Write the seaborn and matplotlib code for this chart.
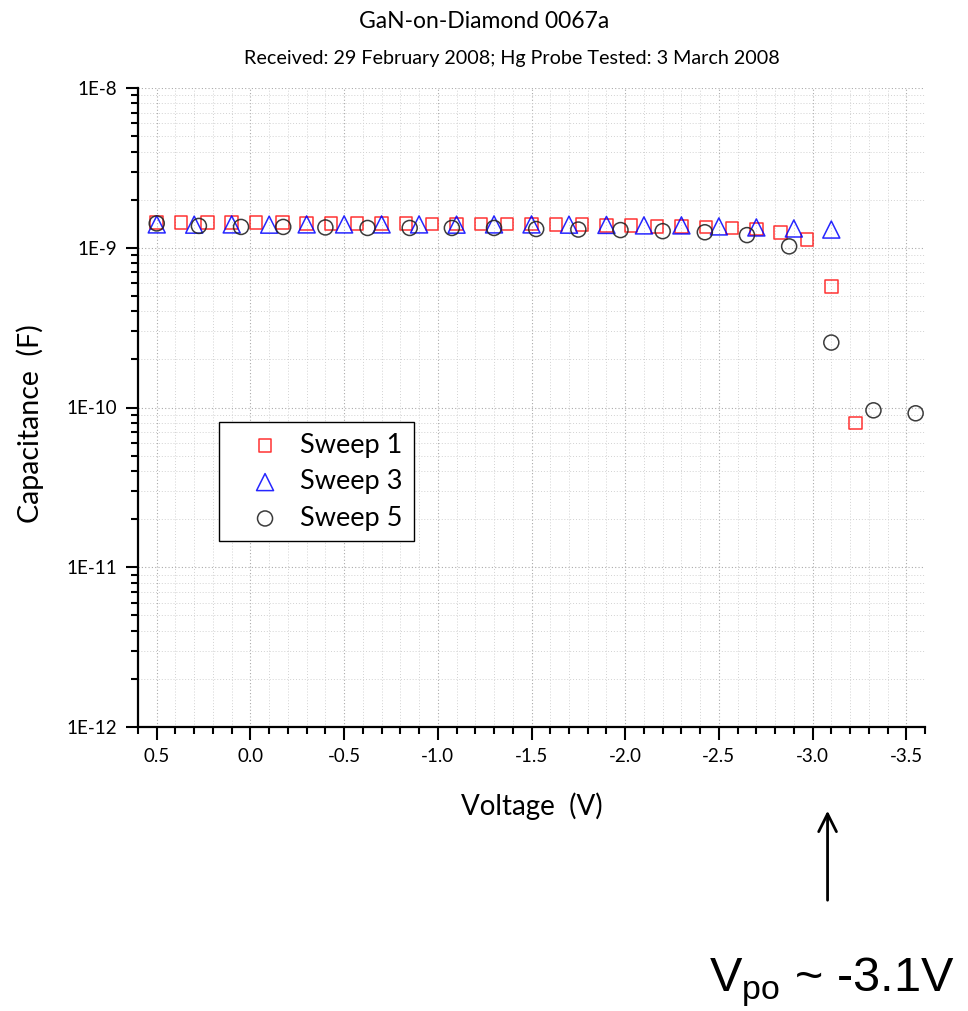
import matplotlib
matplotlib.use("Agg")
import matplotlib.pyplot as plt
import seaborn as sns
import numpy as np
from matplotlib.ticker import FixedLocator, FixedFormatter, LogLocator, NullFormatter

# ---------------- data ----------------
sweep1_v = [0.5, 0.37, 0.23, 0.1, -0.03, -0.17, -0.3, -0.43, -0.57, -0.7,
            -0.83, -0.97, -1.1, -1.23, -1.37, -1.5, -1.63, -1.77, -1.9, -2.03,
            -2.17, -2.3, -2.43, -2.57, -2.7, -2.83, -2.97, -3.1, -3.23]
sweep1_c = [1.435e-9, 1.44e-9, 1.435e-9, 1.435e-9, 1.44e-9, 1.44e-9, 1.415e-9, 1.42e-9,
            1.415e-9, 1.415e-9, 1.415e-9, 1.41e-9, 1.41e-9, 1.41e-9, 1.41e-9, 1.41e-9,
            1.40e-9, 1.40e-9, 1.375e-9, 1.375e-9, 1.36e-9, 1.36e-9, 1.345e-9, 1.33e-9,
            1.31e-9, 1.25e-9, 1.13e-9, 5.7e-10, 8.0e-11]

sweep3_v = [0.5, 0.3, 0.1, -0.1, -0.3, -0.5, -0.7, -0.9, -1.1, -1.3,
            -1.5, -1.7, -1.9, -2.1, -2.3, -2.5, -2.7, -2.9, -3.1]
sweep3_c = [1.40e-9, 1.395e-9, 1.40e-9, 1.395e-9, 1.40e-9, 1.40e-9, 1.40e-9, 1.40e-9,
            1.395e-9, 1.40e-9, 1.40e-9, 1.395e-9, 1.39e-9, 1.38e-9, 1.38e-9, 1.36e-9,
            1.34e-9, 1.32e-9, 1.30e-9]

sweep5_v = [0.5, 0.275, 0.05, -0.175, -0.4, -0.625, -0.85, -1.075, -1.3, -1.525,
            -1.75, -1.975, -2.2, -2.425, -2.65, -2.875, -3.1, -3.325, -3.55]
sweep5_c = [1.42e-9, 1.37e-9, 1.35e-9, 1.35e-9, 1.34e-9, 1.33e-9, 1.33e-9, 1.33e-9,
            1.33e-9, 1.31e-9, 1.30e-9, 1.29e-9, 1.27e-9, 1.25e-9, 1.20e-9, 1.02e-9,
            2.55e-10, 9.6e-11, 9.2e-11]

x_ticks = [0.5, 0.0, -0.5, -1.0, -1.5, -2.0, -2.5, -3.0, -3.5]
x_ticklabels = ["0.5", "0.0", "-0.5", "-1.0", "-1.5", "-2.0", "-2.5", "-3.0", "-3.5"]
y_ticks = [1e-12, 1e-11, 1e-10, 1e-9, 1e-8]
y_ticklabels = ["1E-12", "1E-11", "1E-10", "1E-9", "1E-8"]

title = "GaN-on-Diamond 0067a"
subtitle = "Received: 29 February 2008; Hg Probe Tested: 3 March 2008"

# ---------------- style ----------------
sns.set_style("white")
plt.rcParams["font.family"] = ["Lato", "DejaVu Sans"]
plt.rcParams["text.color"] = "black"
plt.rcParams["axes.labelcolor"] = "black"
plt.rcParams["xtick.color"] = "black"
plt.rcParams["ytick.color"] = "black"

W, H = 968, 1011
fig = plt.figure(figsize=(W / 100, H / 100), dpi=100)
ax = fig.add_axes([138 / W, 1 - 727 / H, (925 - 138) / W, (727 - 88) / H])

sns.scatterplot(x=sweep1_v, y=sweep1_c, ax=ax, marker="s", s=81,
                facecolors="none", edgecolor=(1, 0, 0, 0.8), linewidth=1.1,
                label="Sweep 1", zorder=3)
sns.scatterplot(x=sweep3_v, y=sweep3_c, ax=ax, marker="^", s=150,
                facecolors="none", edgecolor=(0, 0, 1, 0.85), linewidth=1.1,
                label="Sweep 3", zorder=3)
sns.scatterplot(x=sweep5_v, y=sweep5_c, ax=ax, marker="o", s=117,
                facecolors="none", edgecolor=(0.15, 0.15, 0.15, 0.9), linewidth=1.1,
                label="Sweep 5", zorder=3)

ax.set_yscale("log")
ax.set_xlim(0.6, -3.6)
ax.set_ylim(1e-12, 1e-8)

ax.xaxis.set_major_locator(FixedLocator(x_ticks))
ax.xaxis.set_major_formatter(FixedFormatter(x_ticklabels))
ax.xaxis.set_minor_locator(FixedLocator(np.arange(-36, 7) / 10.0))
ax.yaxis.set_major_locator(FixedLocator(y_ticks))
ax.yaxis.set_major_formatter(FixedFormatter(y_ticklabels))
ax.yaxis.set_minor_locator(LogLocator(base=10, subs=np.arange(2, 10), numticks=20))
ax.yaxis.set_minor_formatter(NullFormatter())

for s in ["top", "right"]:
    ax.spines[s].set_visible(False)
for s in ["left", "bottom"]:
    ax.spines[s].set_linewidth(1.6)
    ax.spines[s].set_color("black")

ax.tick_params(axis="both", which="major", direction="out", length=9, width=1.5,
               labelsize=13.5, colors="black", pad=6)
ax.tick_params(axis="both", which="minor", direction="out", length=5, width=1.5,
               colors="black")
ax.tick_params(left=True, bottom=True, which="both")

ax.grid(True, which="major", linestyle=(0, (1, 2)), color="#aaaaaa", linewidth=0.8)
ax.grid(True, which="minor", linestyle=(0, (1, 2)), color="#d2d2d2", linewidth=0.7)
ax.set_axisbelow(True)

ax.set_xlabel("")
ax.set_ylabel("")
fig.text(532 / W, 1 - 806 / H, "Voltage  (V)", ha="center", va="center", fontsize=20)
fig.text(30 / W, 1 - 424 / H, "Capacitance  (F)", ha="center", va="center",
         rotation=90, fontsize=20.5)
fig.text(484 / W, 1 - 21 / H, title, ha="center", va="center", fontsize=16.5)
fig.text(512 / W, 1 - 58 / H, subtitle, ha="center", va="center", fontsize=14.2)

leg = ax.legend(loc="upper left", bbox_to_anchor=((219 - 138) / 787, (727 - 422) / 639),
                borderaxespad=0, fontsize=19.5, frameon=True, fancybox=False,
                framealpha=1, edgecolor="black", handlelength=2.6,
                handletextpad=0.0, borderpad=0.4, labelspacing=0.42)
leg.get_frame().set_linewidth(1.0)

# Pinch-off annotation
ax.annotate("", xy=(-3.08, 1 - 808 / H), xycoords=("data", "figure fraction"),
            xytext=(-3.08, 1 - 903 / H), textcoords=("data", "figure fraction"),
            arrowprops=dict(arrowstyle="->", lw=2, color="black", mutation_scale=32),
            annotation_clip=False)
fig.text(832 / W, 1 - 992 / H, r"V$_{\mathregular{po}}$ ~ -3.1V", ha="center",
         va="baseline", fontsize=35, color="black",
         family=["Liberation Sans", "DejaVu Sans"])

fig.savefig("out.png", dpi=100)
